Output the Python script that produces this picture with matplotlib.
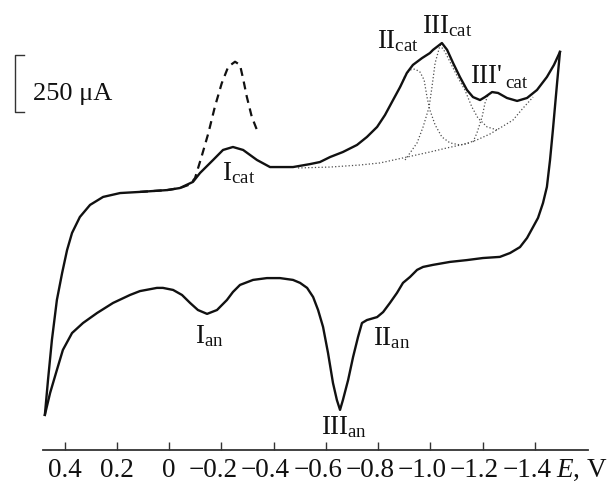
import numpy as np
import matplotlib
matplotlib.use('Agg')
import matplotlib.pyplot as plt
from matplotlib.lines import Line2D

plt.rcParams['font.family'] = ['Liberation Serif', 'DejaVu Serif']
plt.rcParams['mathtext.fontset'] = 'custom'
plt.rcParams['mathtext.rm'] = 'Liberation Serif'
plt.rcParams['mathtext.it'] = 'Liberation Serif:italic'

################## data (E in V, I in uA, arbitrary zero) ##################
# forward (cathodic) scan, 0.48 V -> -1.5 V
E_fwd = [0.476, 0.464, 0.449, 0.430, 0.410, 0.391, 0.372, 0.342, 0.303, 0.253,
         0.188, 0.112, 0.008, -0.041, -0.091, -0.118, -0.168, -0.206, -0.244, -0.283,
         -0.336, -0.386, -0.474, -0.539, -0.577, -0.616, -0.665, -0.719, -0.757, -0.796,
         -0.826, -0.857, -0.884, -0.910, -0.933, -0.968, -0.998, -1.010, -1.044, -1.064,
         -1.087, -1.113, -1.140, -1.163, -1.190, -1.209, -1.236, -1.259, -1.293, -1.332,
         -1.370, -1.408, -1.446, -1.473, -1.496]
I_fwd = [-504, -351, -175, 0, 118, 219, 294, 364, 417, 452,
         469, 474, 482, 491, 518, 557, 614, 658, 671, 658,
         614, 583, 583, 596, 605, 627, 649, 680, 715, 759,
         811, 877, 934, 996, 1031, 1061, 1083, 1097, 1127, 1097,
         1039, 978, 921, 890, 877, 890, 912, 908, 886, 873,
         886, 921, 978, 1031, 1088]

# reverse (anodic) scan, -1.5 V -> 0.48 V
E_rev = [-1.496, -1.485, -1.469, -1.458, -1.446, -1.431, -1.412, -1.393, -1.370, -1.343,
         -1.305, -1.266, -1.201, -1.140, -1.075, -1.010, -0.972, -0.949, -0.922, -0.895,
         -0.872, -0.845, -0.819, -0.796, -0.757, -0.738, -0.723, -0.704, -0.685, -0.665,
         -0.654, -0.642, -0.627, -0.608, -0.589, -0.570, -0.551, -0.528, -0.501, -0.474,
         -0.424, -0.374, -0.321, -0.271, -0.244, -0.221, -0.183, -0.145, -0.110, -0.080,
         -0.049, -0.015, 0.024, 0.047, 0.112, 0.150, 0.215, 0.276, 0.330, 0.372,
         0.407, 0.430, 0.456, 0.476]
I_rev = [1088, 952, 746, 614, 496, 425, 360, 320, 272, 232,
         206, 189, 184, 175, 167, 154, 145, 132, 101, 75,
         31, -13, -53, -75, -88, -101, -162, -250, -351, -439,
         -482, -439, -364, -232, -118, -44, 13, 53, 75, 88,
         96, 96, 88, 66, 35, 0, -44, -61, -44, -13,
         22, 44, 53, 53, 39, 22, -13, -57, -101, -145,
         -219, -307, -408, -504]

# dashed curve (peak I_cat enlarged)
E_dash = [0.112, 0.008, -0.041, -0.080, -0.099, -0.124, -0.150, -0.175, -0.201, -0.226,
          -0.252, -0.271, -0.284, -0.297, -0.316, -0.341]
I_dash = [474, 482, 491, 507, 535, 629, 732, 848, 950, 1023,
          1045, 1031, 965, 892, 804, 731]

# dotted deconvolution: baseline and peaks II, III, III'
E_base = [-0.493, -0.616, -0.730, -0.807, -0.895, -0.998, -1.064, -1.132, -1.178, -1.228,
          -1.266, -1.316, -1.355, -1.393]
I_base = [579, 583, 592, 601, 623, 649, 667, 684, 702, 728,
          754, 789, 842, 890]

E_II = [-0.884, -0.903, -0.922, -0.941, -0.960, -0.976, -0.987, -0.998, -1.018, -1.044,
        -1.075, -1.113, -1.152]
I_II = [934, 985, 1009, 1013, 1000, 965, 890, 833, 768, 715,
        689, 680, 689]

E_III = [-0.903, -0.922, -0.949, -0.972, -0.995, -1.006, -1.018, -1.037, -1.056, -1.083,
         -1.106, -1.132, -1.159, -1.182, -1.217, -1.255]
I_III = [614, 645, 689, 759, 846, 934, 1039, 1118, 1088, 1026,
         974, 921, 846, 798, 759, 746]

E_IIIp = [-1.163, -1.178, -1.198, -1.209, -1.221]
I_IIIp = [693, 732, 803, 864, 899]

tick_E = [0.4, 0.2, 0.0, -0.2, -0.4, -0.6, -0.8, -1.0, -1.2, -1.4]
tick_lab = ['0.4', '0.2', '0', '\u22120.2', '\u22120.4', '\u22120.6', '\u22120.8',
            '\u22121.0', '\u22121.2', '\u22121.4']

################## figure ##################
W, H = 613, 483
fig = plt.figure(figsize=(W/100, H/100), dpi=100)
ax = fig.add_axes([43.3/W, 33/H, 545/W, 430/H])

ink = '#111111'
dot = (0, (1, 1.7))
for e, i in [(E_base, I_base), (E_II, I_II), (E_III, I_III), (E_IIIp, I_IIIp)]:
    ax.plot(e, i, ls=dot, color='#4d4d4d', lw=0.9)
ax.plot(E_dash, I_dash, ls=(0, (3.6, 2.6)), color=ink, lw=1.6)
ax.plot(E_fwd, I_fwd, color=ink, lw=1.7, solid_joinstyle='round')
ax.plot(E_rev, I_rev, color=ink, lw=1.7, solid_joinstyle='round')

ax.set_xlim(0.482, -1.6045)
ax.set_ylim(-658, 1228)
for s in ['top', 'right', 'left']:
    ax.spines[s].set_visible(False)
ax.spines['bottom'].set_color('#333333')
ax.spines['bottom'].set_linewidth(1.3)
ax.set_yticks([])
ax.set_xticks(tick_E)
ax.set_xticklabels([])
ax.tick_params(axis='x', direction='in', length=6, width=1.0, color='#333333')

# tick labels: digits centred on the tick, minus sign hanging to the left
tfs = 19.5
for e, lab in zip(tick_E, tick_lab):
    if lab.startswith('\u2212'):
        ax.annotate(lab, xy=(e, 0), xycoords=('data', 'axes fraction'),
                    xytext=(0.6*tfs, -19.4), textcoords='offset points',
                    ha='right', va='baseline', fontsize=tfs, color=ink)
    else:
        ax.annotate(lab, xy=(e, 0), xycoords=('data', 'axes fraction'),
                    xytext=(0, -19.4), textcoords='offset points',
                    ha='center', va='baseline', fontsize=tfs, color=ink)

def px(x, y):
    return x/W, 1 - y/H

fs = 19.5
fig.text(*px(222, 180), r'$\mathrm{I}_{\mathrm{cat}}$', fontsize=fs, color=ink, va='baseline')
fig.text(*px(377, 48), r'$\mathrm{II}_{\mathrm{cat}}$', fontsize=fs, color=ink, va='baseline')
fig.text(*px(422, 33), r'$\mathrm{III}_{\mathrm{cat}}$', fontsize=fs, color=ink, va='baseline')
fig.text(*px(470, 83), "III'", fontsize=fs, color=ink, va='baseline')
fig.text(*px(505, 88), 'cat', fontsize=fs*0.7, color=ink, va='baseline')
fig.text(*px(195, 343), r'$\mathrm{I}_{\mathrm{an}}$', fontsize=fs, color=ink, va='baseline')
fig.text(*px(373, 345), r'$\mathrm{II}_{\mathrm{an}}$', fontsize=fs, color=ink, va='baseline')
fig.text(*px(321, 434), r'$\mathrm{III}_{\mathrm{an}}$', fontsize=fs, color=ink, va='baseline')
fig.text(*px(556, 477), r'$\mathit{E}$, V', fontsize=tfs, color=ink, va='baseline')

# 250 uA scale bar
sb = [(24, 55), (15, 55), (15, 112), (24, 112)]
fig.add_artist(Line2D([p[0]/W for p in sb], [1 - p[1]/H for p in sb],
                      color='#333333', lw=1.0))
fig.text(*px(33, 100), '250 \u03bcA', fontsize=19, color=ink, va='baseline')

fig.savefig('out.png', dpi=100, facecolor='white')
